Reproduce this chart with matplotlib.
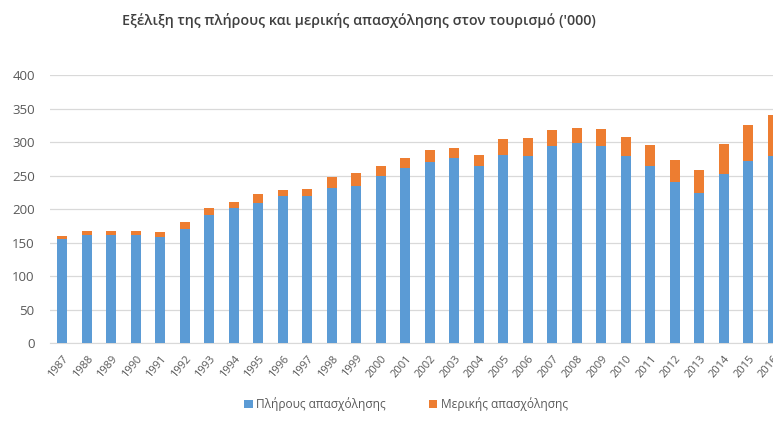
import matplotlib
matplotlib.use("Agg")
import matplotlib.pyplot as plt
import numpy as np

years = [str(y) for y in range(1987, 2017)]
full_time = [155, 161, 162, 161, 159, 171, 192, 202, 210, 220, 220, 232, 235, 249,
             261, 271, 276, 264, 281, 280, 294, 299, 295, 280, 265, 241, 225, 252, 272, 280]
total = [160, 167, 168, 167, 166, 181, 202, 211, 223, 229, 231, 248, 254, 265,
         276, 289, 292, 281, 305, 306, 318, 322, 320, 308, 296, 273, 259, 297, 326, 340]
part_time = [t - f for t, f in zip(total, full_time)]

title = "Εξέλιξη της πλήρους και μερικής απασχόλησης στον τουρισμό ('000)"
labels = ["Πλήρους απασχόλησης", "Μερικής απασχόλησης"]
yticks = [0, 50, 100, 150, 200, 250, 300, 350, 400]

plt.rcParams['font.family'] = ['Open Sans', 'DejaVu Sans']

W, H = 773, 421
fig = plt.figure(figsize=(W / 100, H / 100), dpi=100)
left, right = 50, 785
bottom_px, top_px = 343.3, 75.3
ax = fig.add_axes([left / W, (H - bottom_px) / H, (right - left) / W, (bottom_px - top_px) / H])

x = np.arange(len(years))
b1 = ax.bar(x, full_time, width=0.39, color='#5B9BD5', label=labels[0], zorder=3)
b2 = ax.bar(x, part_time, width=0.39, bottom=full_time, color='#ED7D31', label=labels[1], zorder=3)

ax.set_xlim(-0.5, len(years) - 0.5)
ax.set_ylim(0, 400)
ax.set_yticks(yticks)
ax.yaxis.grid(True, color='#D9D9D9', linewidth=0.9, zorder=0)
ax.set_axisbelow(True)
for s in ['top', 'right', 'left']:
    ax.spines[s].set_visible(False)
ax.spines['bottom'].set_color('#D9D9D9')
ax.tick_params(axis='both', length=0, colors='#595959')
ax.tick_params(axis='y', labelsize=9.5, pad=11)
ax.set_xticks(x)
ax.set_xticklabels(years, rotation=50, ha='right', rotation_mode='anchor', fontsize=8)
ax.tick_params(axis='x', pad=7)

fig.text(359 / W, 1 - 20 / H, title, ha='center', va='center', fontsize=10.3,
         fontweight='semibold', color='#404040')

fig.legend(handles=[b1, b2], labels=labels, loc='center', bbox_to_anchor=(406 / W, 1 - 404 / H),
           ncol=2, frameon=False, fontsize=8.6, handlelength=0.7, handleheight=0.7,
           handletextpad=0.3, columnspacing=3.6, labelcolor='#595959')

fig.savefig('out.png', dpi=100)
